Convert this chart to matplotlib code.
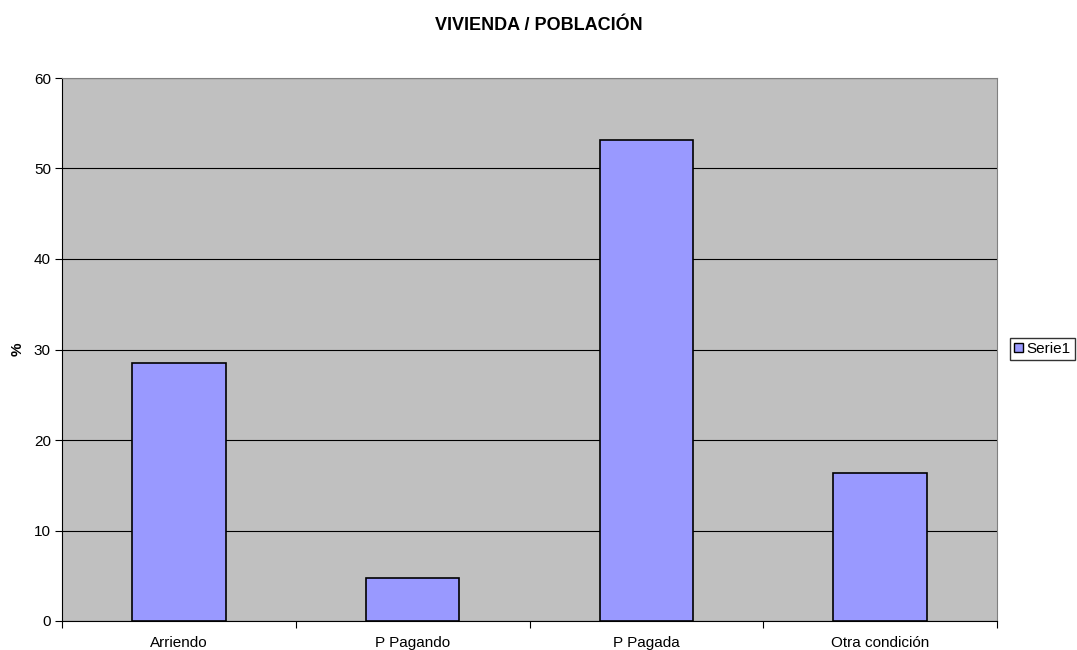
import numpy as np
import matplotlib.pyplot as plt
from matplotlib.patches import Patch

# datos
categorias = ["Arriendo", "P Pagando", "P Pagada", "Otra condición"]
valores = [28.5, 4.7, 53.2, 16.4]
serie = "Serie1"

plt.rcParams["font.family"] = ["Liberation Sans", "DejaVu Sans"]

fig = plt.figure(figsize=(10.77, 6.5), dpi=100)
ax = fig.add_axes([62 / 1077, 29 / 650, 935 / 1077, 543 / 650])
ax.set_facecolor("#C0C0C0")

x = np.arange(len(categorias))
ax.bar(x, valores, width=0.4, color="#9999FF", edgecolor="black",
       linewidth=1.2, zorder=3)

ax.set_xlim(-0.5, len(categorias) - 0.5)
ax.set_ylim(0, 60)
ax.set_yticks(range(0, 61, 10))
ax.yaxis.grid(True, color="black", linewidth=0.8, zorder=1)
ax.set_axisbelow(True)

# ticks del eje x en los límites de categoría
ax.set_xticks(np.arange(-0.5, len(categorias), 1.0))
ax.set_xticklabels([])
ax.set_xticks(x, minor=True)
ax.set_xticklabels(categorias, minor=True)
ax.tick_params(axis="x", which="minor", length=0, pad=11, labelsize=11)
ax.tick_params(axis="x", which="major", length=5, direction="out")
ax.tick_params(axis="y", length=5, direction="out", labelsize=11, pad=3)

for s in ["top", "right"]:
    ax.spines[s].set_color("#808080")
ax.spines["left"].set_color("black")
ax.spines["bottom"].set_color("black")

ax.set_ylabel("%", fontsize=11, fontweight="bold")
ax.yaxis.set_label_coords(-37 / 935, 0.5)
fig.text(0.5, 1 - 25 / 650, "VIVIENDA / POBLACIÓN", ha="center", va="center",
         fontsize=13, fontweight="bold")

handle = Patch(facecolor="#9999FF", edgecolor="black", label=serie)
fig.legend(handles=[handle], loc="center left",
           bbox_to_anchor=(1010 / 1077, 1 - 349 / 650), fontsize=11,
           frameon=True, fancybox=False, edgecolor="black",
           handlelength=0.6, handleheight=0.6, handletextpad=0.25,
           borderpad=0.25, borderaxespad=0)

fig.savefig("out.png", dpi=100)
